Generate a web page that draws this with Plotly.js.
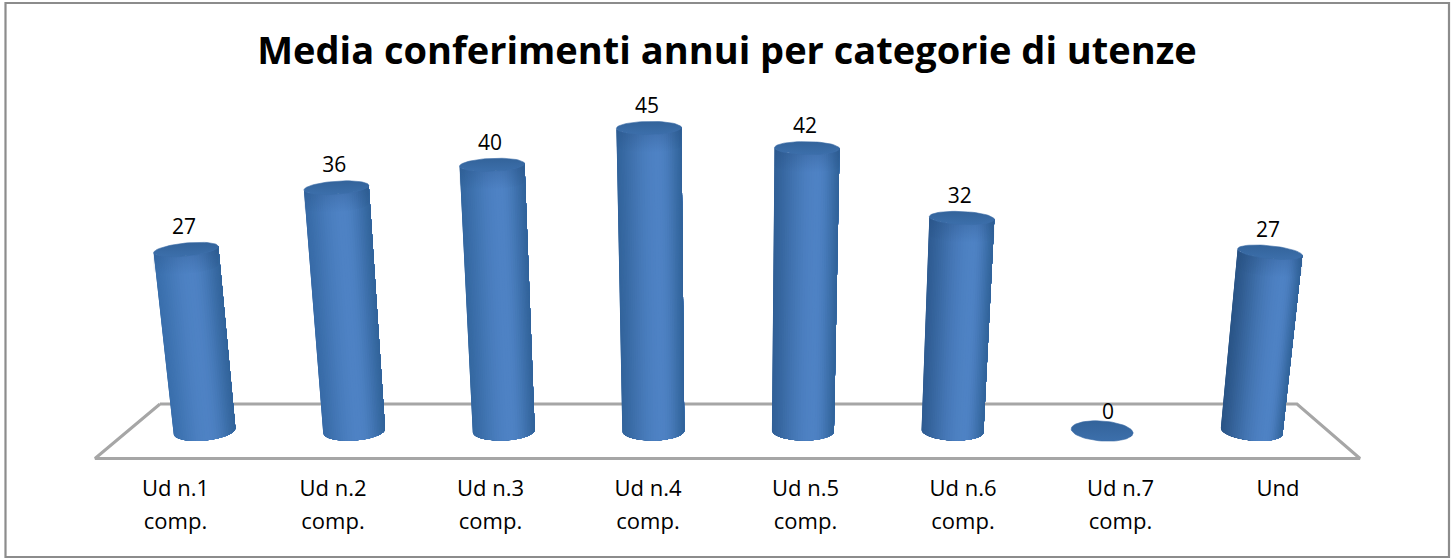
<!DOCTYPE html>
<html>
<head>
<meta charset="utf-8">
<script src="https://cdn.plot.ly/plotly-3.0.1.min.js"></script>
<style>html,body{margin:0;padding:0;background:#fff;overflow:hidden}#chart{width:1451px;height:558px}</style>
</head>
<body>
<div id="chart"></div>
<script>
const chartTitle = "Media conferimenti annui per categorie di utenze";
const categories = ["Ud n.1 comp.", "Ud n.2 comp.", "Ud n.3 comp.", "Ud n.4 comp.", "Ud n.5 comp.", "Ud n.6 comp.", "Ud n.7 comp.", "Und"];
const tickLines = [["Ud n.1","comp."],["Ud n.2","comp."],["Ud n.3","comp."],["Ud n.4","comp."],["Ud n.5","comp."],["Ud n.6","comp."],["Ud n.7","comp."],["Und"]];
const values = [27, 36.2, 39.6, 45.1, 42.1, 31.7, 0, 26.6];

// Oblique-view geometry of the 3-D column chart, in page pixels
const W = 1451, H = 558, plotBottom = 470;
const tick0 = 175.5, tickStep = 157.5;      // front-row category spacing
const base0 = 204.5, baseStep = 149.6;      // column centres on the floor
const baseY = 431, pxPerUnit = 6.72;
const vanishX = 728, lean = 0.00131;        // columns fan out away from this x
const baseRx = 31, baseRy = 9.5, topRx = 32.5, topRy = 6.5;
const STRIPS = 40;

const xOf = px => (px - tick0) / tickStep;
const yOf = py => (baseY - py) / pxPerUnit;

function mix(a, b, t) {
  return "rgb(" + a.map((c, k) => Math.round(c + (b[k] - c) * t)).join(",") + ")";
}
function ellipsePt(cx, cy, rx, ry, tilt, phi) {
  const ex = rx * Math.cos(phi), ey = ry * Math.sin(phi);
  return [cx + ex * Math.cos(tilt) - ey * Math.sin(tilt),
          cy + ex * Math.sin(tilt) + ey * Math.cos(tilt)];
}
function arc(cx, cy, rx, ry, tilt, from, to, n) {
  const pts = [];
  for (let k = 0; k <= n; k++) pts.push(ellipsePt(cx, cy, rx, ry, tilt, from + (to - from) * k / n));
  return pts;
}

const traces = [];
const addPoly = (poly, extra) => traces.push(Object.assign({
  x: poly.map(p => xOf(p[0])), y: poly.map(p => yOf(p[1])),
  mode: "lines", fill: "toself", hoverinfo: "skip", showlegend: false
}, extra));

// Floor
const floorPx = [[160, 404], [1297, 404], [1360, 458.5], [95, 458.5], [160, 404]];
traces.push({
  x: floorPx.map(p => xOf(p[0])), y: floorPx.map(p => yOf(p[1])),
  mode: "lines", line: {color: "#a6a6a6", width: 3},
  hoverinfo: "skip", showlegend: false
});

const labelX = [], labelY = [], labelText = [];
values.forEach((v, i) => {
  const bx = base0 + baseStep * i;
  const dx = lean * (bx - vanishX) * v;
  const tx = bx + dx, ty = baseY - v * pxPerUnit;
  const tilt = lean * (bx - vanishX) / pxPerUnit;

  if (v > 0) {
    const h = 0.55 + 0.2 * i / 7;
    const leftEdge = mix([58, 111, 172], [42, 85, 135], i / 7).match(/\d+/g).map(Number);
    const rightEdge = [50, 100, 155];
    const light = [78, 130, 196];
    // Each strip runs to the right end of the column and is overpainted by the next, so no seams show
    for (let j = 0; j < STRIPS; j++) {
      const p0 = Math.PI - Math.PI * j / STRIPS;
      const u = (1 - Math.cos(Math.PI * (j + 0.5) / STRIPS)) / 2;
      const t = u < h ? Math.sin(u / h * Math.PI / 2) : Math.cos((u - h) / (1 - h) * Math.PI / 2);
      const col = mix(u < h ? leftEdge : rightEdge, light, Math.pow(t, 1.3));
      const n = Math.max(1, STRIPS - j);
      const bottom = arc(bx, baseY, baseRx, baseRy, tilt, p0, 0, n);
      const top = arc(tx, ty, topRx, topRy, tilt, 0, p0, n);
      addPoly(bottom.concat(top, [bottom[0]]), {fillcolor: col, line: {width: 0, color: col}});
    }
    // Soft shadow band just under the cap
    const rimTop = arc(tx, ty, topRx, topRy, tilt, Math.PI, 0, 30);
    const rimLow = arc(tx, ty + 18, topRx, topRy, tilt, 0, Math.PI, 30);
    addPoly(rimTop.concat(rimLow, [rimTop[0]]), {
      fillcolor: "rgba(40,80,130,0.15)",
      fillgradient: {type: "vertical", colorscale: [[0, "rgba(35,75,125,0)"], [1, "rgba(35,75,125,0.35)"]]},
      line: {width: 0, color: "rgba(0,0,0,0)"}
    });
  }

  // Cap
  const capRx = v > 0 ? topRx : baseRx, capRy = v > 0 ? topRy : baseRy + 0.5;
  addPoly(arc(tx, ty, capRx, capRy, tilt, 0, 2 * Math.PI, 60), {
    fillcolor: "#3a6ba6",
    fillgradient: {type: "vertical", colorscale: [[0, "#3c6fab"], [1, "#33639a"]]},
    line: {color: "#3a6ba6", width: 0.6}
  });

  labelX.push(xOf(tx + (v > 0 ? -2 : 6)));
  labelY.push(yOf(ty - (v > 0 ? 20.5 : 17)));
  labelText.push(String(Math.round(v)));
});

traces.push({
  x: labelX, y: labelY, text: labelText, mode: "text",
  textposition: "middle center",
  textfont: {family: "Open Sans, sans-serif", size: 21, color: "#000"},
  hoverinfo: "skip", showlegend: false
});

const tickText = tickLines.map(l => l.map(s => '<span style="font-size:22px">' + s + '</span>').join("<br>"));

const layout = {
  width: W, height: H,
  margin: {l: 0, r: 0, t: 0, b: H - plotBottom},
  paper_bgcolor: "#fff", plot_bgcolor: "#fff",
  showlegend: false,
  title: {
    text: "<b>" + chartTitle + "</b>",
    font: {family: "Open Sans, sans-serif", size: 38, color: "#000"},
    x: 727 / W, xanchor: "center", y: 1 - 51 / H, yanchor: "middle"
  },
  xaxis: {
    range: [xOf(0), xOf(W)], showgrid: false, zeroline: false, showline: false,
    tickmode: "array", tickvals: categories.map((c, i) => i), ticktext: tickText,
    tickfont: {family: "Open Sans, sans-serif", size: 25, color: "#000"},
    ticks: "", fixedrange: true
  },
  yaxis: {
    range: [yOf(plotBottom), yOf(0)], showgrid: false, zeroline: false, showline: false,
    showticklabels: false, ticks: "", fixedrange: true
  },
  shapes: [{
    type: "rect", xref: "paper", yref: "paper",
    x0: 5.5 / W, x1: 1449 / W,
    y0: -(557 - plotBottom) / plotBottom, y1: (plotBottom - 3) / plotBottom,
    line: {color: "#8c8c8c", width: 2.2}, fillcolor: "rgba(0,0,0,0)", layer: "below"
  }]
};

Plotly.newPlot("chart", traces, layout, {displayModeBar: false, staticPlot: true});
</script>
</body>
</html>
